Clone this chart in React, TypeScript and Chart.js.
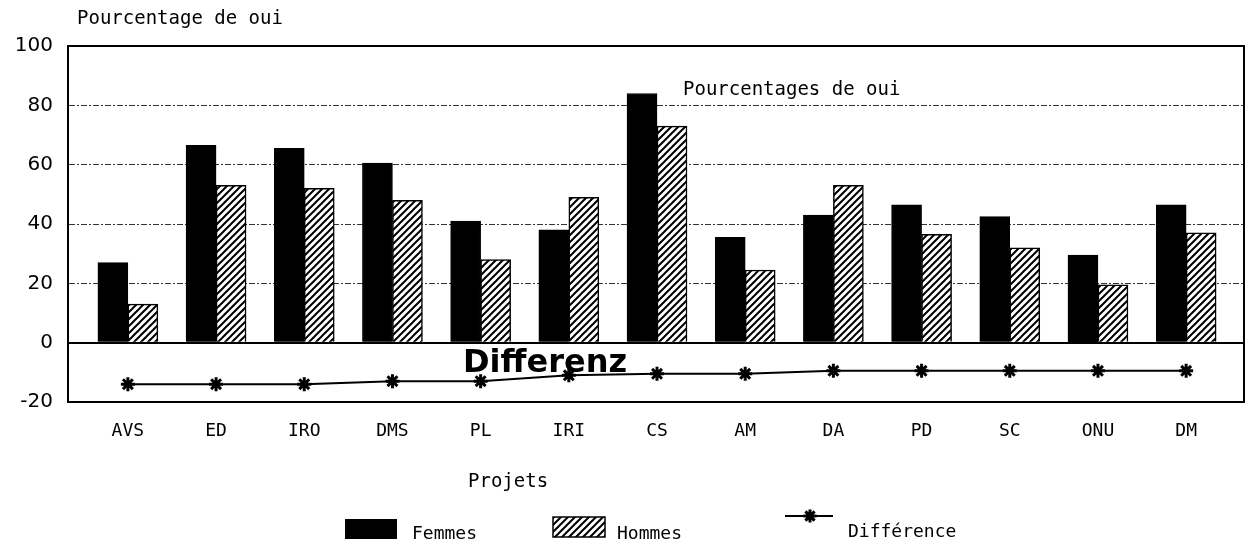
import React, { useEffect, useRef } from "react";
import { Chart, registerables } from "chart.js";

Chart.register(...registerables);

// ---- data ----
const categories = ["AVS", "ED", "IRO", "DMS", "PL", "IRI", "CS", "AM", "DA", "PD", "SC", "ONU", "DM"];
const femmes = [27, 66.5, 65.5, 60.5, 41, 38, 84, 35.5, 43, 46.5, 42.5, 29.5, 46.5];
const hommes = [13, 53, 52, 48, 28, 49, 73, 24.5, 53, 36.5, 32, 19.5, 37];
const difference = [-14, -14, -14, -13, -13, -11, -10.5, -10.5, -9.5, -9.5, -9.5, -9.5, -9.5];
const yTicks = [-20, 0, 20, 40, 60, 80, 100];
const seriesLabels = ["Femmes", "Hommes", "Différence"];
const yAxisTitle = "Pourcentage de oui";
const xAxisTitle = "Projets";
const innerTitle = "Pourcentages de oui";
const diffTitle = "Differenz";

const MONO = '"DejaVu Sans Mono", monospace';

function makeHatch(ctx: CanvasRenderingContext2D): CanvasPattern | string {
  const s = 7;
  const c = document.createElement("canvas");
  c.width = s;
  c.height = s;
  const g = c.getContext("2d");
  if (!g) return "#fff";
  g.fillStyle = "#fff";
  g.fillRect(0, 0, s, s);
  g.strokeStyle = "#000";
  g.lineWidth = 2;
  g.beginPath();
  g.moveTo(-1, s + 1);
  g.lineTo(s + 1, -1);
  g.moveTo(-1, 1);
  g.lineTo(1, -1);
  g.moveTo(s - 1, s + 1);
  g.lineTo(s + 1, s - 1);
  g.stroke();
  return ctx.createPattern(c, "repeat") || "#fff";
}

function drawStar(ctx: CanvasRenderingContext2D, x: number, y: number, r: number) {
  ctx.beginPath();
  for (let k = 0; k < 4; k++) {
    const a = (k * Math.PI) / 4;
    ctx.moveTo(x - Math.cos(a) * r, y - Math.sin(a) * r);
    ctx.lineTo(x + Math.cos(a) * r, y + Math.sin(a) * r);
  }
  ctx.stroke();
}

const framePlugin = {
  id: "frame",
  afterDraw(chart: any) {
    const { ctx, chartArea: a } = chart;
    ctx.save();
    ctx.strokeStyle = "#000";
    ctx.lineWidth = 2;
    ctx.strokeRect(a.left, a.top, a.right - a.left, a.bottom - a.top);
    ctx.restore();
  },
};

const textPlugin = {
  id: "texts",
  afterDraw(chart: any) {
    const { ctx, chartArea: a } = chart;
    const ys = chart.scales.y;
    ctx.save();
    ctx.fillStyle = "#000";
    ctx.textAlign = "left";
    ctx.textBaseline = "alphabetic";

    ctx.font = `19px ${MONO}`;
    ctx.fillText(yAxisTitle, a.left + 9, a.top - 22);
    ctx.fillText(innerTitle, a.left + 615, ys.getPixelForValue(83.5));
    ctx.fillText(xAxisTitle, a.left + 400, a.bottom + 85);

    ctx.font = 'bold 32px "DejaVu Sans", sans-serif';
    ctx.fillText(diffTitle, a.left + 395, ys.getPixelForValue(-10));

    // legend
    const ds = chart.data.datasets;
    const ly = a.bottom + 127;
    ctx.font = `18px ${MONO}`;
    // Femmes
    ctx.fillStyle = ds[0].backgroundColor;
    ctx.fillRect(345, ly - 10, 52, 20);
    ctx.fillStyle = "#000";
    ctx.fillText(ds[0].label, 412, ly + 10);
    // Hommes
    ctx.fillStyle = ds[1].backgroundColor;
    ctx.fillRect(553, ly - 12, 52, 20);
    ctx.strokeStyle = "#000";
    ctx.lineWidth = 1.5;
    ctx.strokeRect(553, ly - 12, 52, 20);
    ctx.fillStyle = "#000";
    ctx.fillText(ds[1].label, 617, ly + 10);
    // Différence
    ctx.strokeStyle = "#000";
    ctx.lineWidth = 2;
    ctx.beginPath();
    ctx.moveTo(785, ly - 13);
    ctx.lineTo(833, ly - 13);
    ctx.stroke();
    ctx.lineWidth = 3;
    drawStar(ctx, 810, ly - 13, 6.5);
    ctx.fillText(ds[2].label, 848, ly + 8);
    ctx.restore();
  },
};

export default function App() {
  const ref = useRef<HTMLCanvasElement | null>(null);

  useEffect(() => {
    const canvas = ref.current;
    if (!canvas) return;
    const ctx = canvas.getContext("2d");
    if (!ctx) return;
    const hatch = makeHatch(ctx);

    const chart = new Chart(canvas, {
      type: "bar",
      data: {
        datasets: [
          {
            type: "bar",
            label: seriesLabels[0],
            data: categories.map((_, i) => ({ x: i, y: femmes[i] })),
            backgroundColor: "#000",
            borderColor: "#000",
            borderWidth: 1,
            barThickness: 30,
            order: 2,
          },
          {
            type: "bar",
            label: seriesLabels[1],
            data: categories.map((_, i) => ({ x: i, y: hommes[i] })),
            backgroundColor: hatch as any,
            borderColor: "#000",
            borderWidth: 1.5,
            barThickness: 30,
            order: 2,
          },
          {
            type: "line",
            label: seriesLabels[2],
            data: categories.map((_, i) => ({ x: i, y: difference[i] })),
            borderColor: "#000",
            borderWidth: 2,
            tension: 0,
            pointStyle: "star",
            pointRadius: 7,
            pointBorderWidth: 3,
            pointBorderColor: "#000",
            pointBackgroundColor: "#000",
            order: 1,
          },
        ] as any,
      },
      options: {
        responsive: false,
        animation: false,
        layout: { padding: { left: 0, right: 7, top: 46, bottom: 84 } },
        plugins: {
          legend: { display: false },
          tooltip: { enabled: false },
        },
        scales: {
          x: {
            type: "linear",
            offset: false,
            min: -0.679,
            max: 12.656,
            afterBuildTicks: (s: any) => {
              s.ticks = categories.map((_, i) => ({ value: i }));
            },
            afterFit: (s: any) => {
              s.height = 60;
            },
            grid: { display: false, drawTicks: false, offset: false },
            border: { display: true, color: "#000", width: 2 },
            ticks: {
              autoSkip: false,
              maxRotation: 0,
              padding: 19,
              color: "#000",
              font: { family: MONO, size: 18 },
              callback: (v: any) => categories[v] ?? "",
            },
          },
          y: {
            min: -20,
            max: 100,
            afterBuildTicks: (s: any) => {
              s.ticks = yTicks.map((v) => ({ value: v }));
            },
            afterFit: (s: any) => {
              s.width = 68;
            },
            grid: {
              drawTicks: false,
              color: (c: any) => {
                const v = c.tick?.value;
                if (v === 0) return "#000";
                if (v === -20 || v === 100) return "rgba(0,0,0,0)";
                return "#333";
              },
              lineWidth: (c: any) => (c.tick?.value === 0 ? 2 : 1),
            },
            border: {
              color: "#000",
              width: 2,
              dash: (c: any) => (c.tick && c.tick.value !== 0 ? [6, 2, 2, 2] : []),
            },
            ticks: {
              padding: 15,
              color: "#000",
              font: { family: '"DejaVu Sans", sans-serif', size: 20 },
            },
          },
        },
      } as any,
      plugins: [framePlugin, textPlugin],
    });

    return () => chart.destroy();
  }, []);

  return (
    <div style={{ position: "absolute", left: 0, top: 0, width: 1254, height: 546, background: "#fff" }}>
      <canvas ref={ref} width={1254} height={546} style={{ display: "block" }} />
    </div>
  );
}
